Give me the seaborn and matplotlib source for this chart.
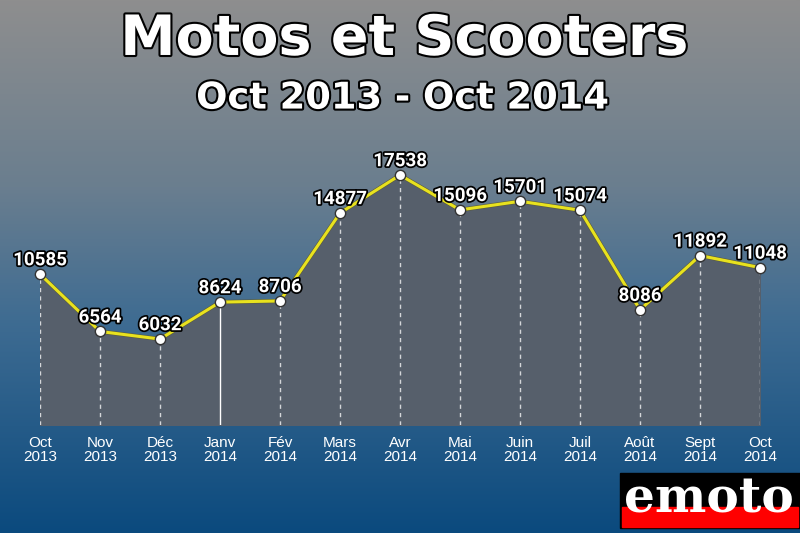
import numpy as np
import matplotlib
matplotlib.use("Agg")
import matplotlib.pyplot as plt
import matplotlib.patheffects as pe
import seaborn as sns
import pandas as pd
from matplotlib.colors import LinearSegmentedColormap
from matplotlib.patches import Rectangle

# données
mois = ["Oct", "Nov", "Déc", "Janv", "Fév", "Mars", "Avr", "Mai", "Juin", "Juil", "Août", "Sept", "Oct"]
annees = ["2013", "2013", "2013", "2014", "2014", "2014", "2014", "2014", "2014", "2014", "2014", "2014", "2014"]
ventes = [10585, 6564, 6032, 8624, 8706, 14877, 17538, 15096, 15701, 15074, 8086, 11892, 11048]

df = pd.DataFrame({"x": np.arange(len(ventes)), "ventes": ventes})

sns.set_style("white")
plt.rcParams['font.family'] = ['DejaVu Sans']

fig = plt.figure(figsize=(8, 5.33), dpi=100)

# fond dégradé gris -> bleu
bg = fig.add_axes([0, 0, 1, 1], zorder=0)
cmap_bg = LinearSegmentedColormap.from_list(
    "fond", [(0, "#8e8e8e"), (0.35, "#6a7e8f"), (0.6, "#3f6c92"), (1.0, "#0b4a7e")])
bg.imshow(np.linspace(0, 1, 256).reshape(-1, 1), aspect="auto", cmap=cmap_bg,
          extent=[0, 1, 0, 1])
bg.set_axis_off()

ax = fig.add_axes([0.05, 0.2026, 0.9, 0.516], zorder=1)
ax.patch.set_alpha(0)
ax.set_xlim(0, 12)
ax.set_ylim(0, 19300)

# zone remplie
ax.fill_between(df["x"], 0, df["ventes"], color="#565f6b", zorder=1)

# lignes verticales pointillées
for i, v in enumerate(ventes):
    if i == 3:
        ax.plot([i, i], [0, v], color="white", lw=1, zorder=2)
    else:
        ax.plot([i, i], [0, v], color="white", lw=1, ls=(0, (3, 3)), alpha=0.75, zorder=2)

sns.lineplot(data=df, x="x", y="ventes", ax=ax, color="#e8e21e", lw=2.2, zorder=3,
             path_effects=[pe.Stroke(linewidth=3.0, foreground="#5a5a3a"), pe.Normal()])
ax.scatter(df["x"], df["ventes"], s=55, color="white", edgecolor="#333333",
           linewidth=1, zorder=4, clip_on=False)

for i, v in enumerate(ventes):
    ax.annotate(f"{v}", (i, v), xytext=(0, 3.5), textcoords="offset points",
                ha="center", va="bottom", fontsize=13.5, fontweight="bold",
                family="Roboto", color="white", zorder=5, annotation_clip=False,
                path_effects=[pe.withStroke(linewidth=2.5, foreground="black")])

ax.set_xticks(df["x"])
ax.set_xticklabels([f"{m}\n{a}" for m, a in zip(mois, annees)],
                   color="white", fontsize=11, family="Liberation Sans", linespacing=0.95)
ax.tick_params(axis="x", length=0, pad=8)
ax.set_yticks([])
ax.set_xlabel("")
ax.set_ylabel("")
for s in ax.spines.values():
    s.set_visible(False)

# titres
contour = [pe.withStroke(linewidth=3, foreground="black")]
fig.text(0.505, 0.925, "Motos et Scooters", ha="center", va="center", fontsize=40,
         fontweight="bold", color="white", path_effects=contour, zorder=5)
fig.text(0.503, 0.816, "Oct 2013 - Oct 2014", ha="center", va="center", fontsize=26.5,
         fontweight="bold", color="white", path_effects=contour, zorder=5)

# logo emoto
fig.patches.append(Rectangle((620 / 800, 5 / 533), 180 / 800, 55 / 533,
                             transform=fig.transFigure, color="black", zorder=5))
fig.patches.append(Rectangle((622 / 800, 6 / 533), 176 / 800, 20 / 533,
                             transform=fig.transFigure, color="#ff0000", zorder=6))
fig.text(709 / 800, 34 / 533, "emoto", ha="center", va="center", fontsize=35,
         fontweight="black", family="DejaVu Serif", color="white", zorder=7)

fig.savefig("out.png", dpi=100)
